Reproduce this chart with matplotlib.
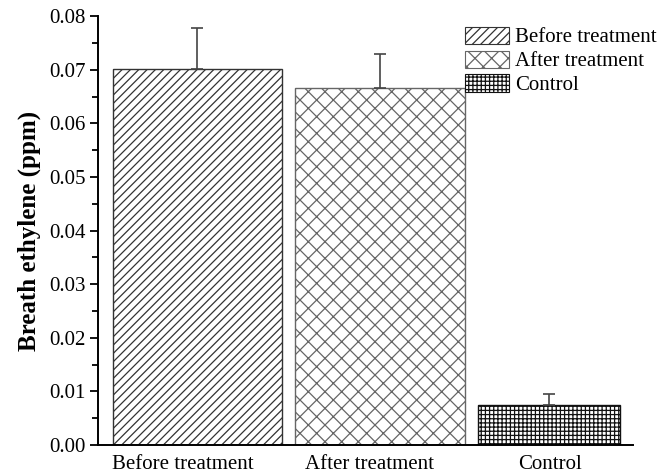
import matplotlib.pyplot as plt
from matplotlib.patches import Patch
from matplotlib.ticker import MultipleLocator

plt.rcParams['font.family'] = ['Liberation Serif', 'DejaVu Serif']
plt.rcParams['hatch.linewidth'] = 0.9

# данные: средние значения и верхняя погрешность
groups = ['Before treatment', 'After treatment', 'Control']
means = [0.0701, 0.0666, 0.0075]
errors = [0.0077, 0.0063, 0.0020]

# оформление столбцов
centers = [99.5, 282, 451]
widths = [169, 170, 142]
label_pos = [85, 272, 452]
hatches = ['////', 'xx', '++++']
hatch_colors = ['#333333', '#666666', '#111111']

fig = plt.figure(figsize=(6.62, 4.74), dpi=100)
ax = fig.add_axes([0.148, 0.061, 0.808, 0.905])

handles = []
for c, w, m, h, hc, g in zip(centers, widths, means, hatches, hatch_colors, groups):
    ax.bar(c, m, width=w, color='white', edgecolor=hc, hatch=h, linewidth=0)
    ax.bar(c, m, width=w, fill=False, edgecolor=hc, linewidth=1.0)
    handles.append(Patch(facecolor='white', edgecolor=hc, hatch=h, linewidth=0.8, label=g))

ax.errorbar(centers, means, yerr=[[0, 0, 0], errors], fmt='none',
            ecolor='#444444', elinewidth=1.2, capsize=4, capthick=1.2)

ax.set_xlim(0, 535)
ax.set_ylim(0, 0.08)
ax.yaxis.set_minor_locator(MultipleLocator(0.005))
ax.set_yticks([i * 0.01 for i in range(9)])
ax.set_yticklabels(['%.2f' % (i * 0.01) for i in range(9)], fontsize=15)
ax.set_xticks(label_pos)
ax.set_xticklabels(groups, fontsize=15)
ax.tick_params(axis='x', length=0, pad=7)
ax.tick_params(axis='y', which='major', direction='out', length=6, width=1.3, pad=3)
ax.tick_params(axis='y', which='minor', direction='out', length=4, width=1.3)

for s in ['top', 'right']:
    ax.spines[s].set_visible(False)
for s in ['left', 'bottom']:
    ax.spines[s].set_linewidth(1.4)

ax.set_ylabel('Breath ethylene (ppm)', fontsize=18, fontweight='bold', labelpad=6)

leg = fig.legend(handles=handles, loc='upper left', frameon=False, fontsize=15,
                 handlelength=2.1, handleheight=0.9, handletextpad=0.3,
                 labelspacing=0.15, borderaxespad=0, borderpad=0,
                 bbox_to_anchor=(0.703, 0.944))

fig.savefig('out.png', dpi=100)
